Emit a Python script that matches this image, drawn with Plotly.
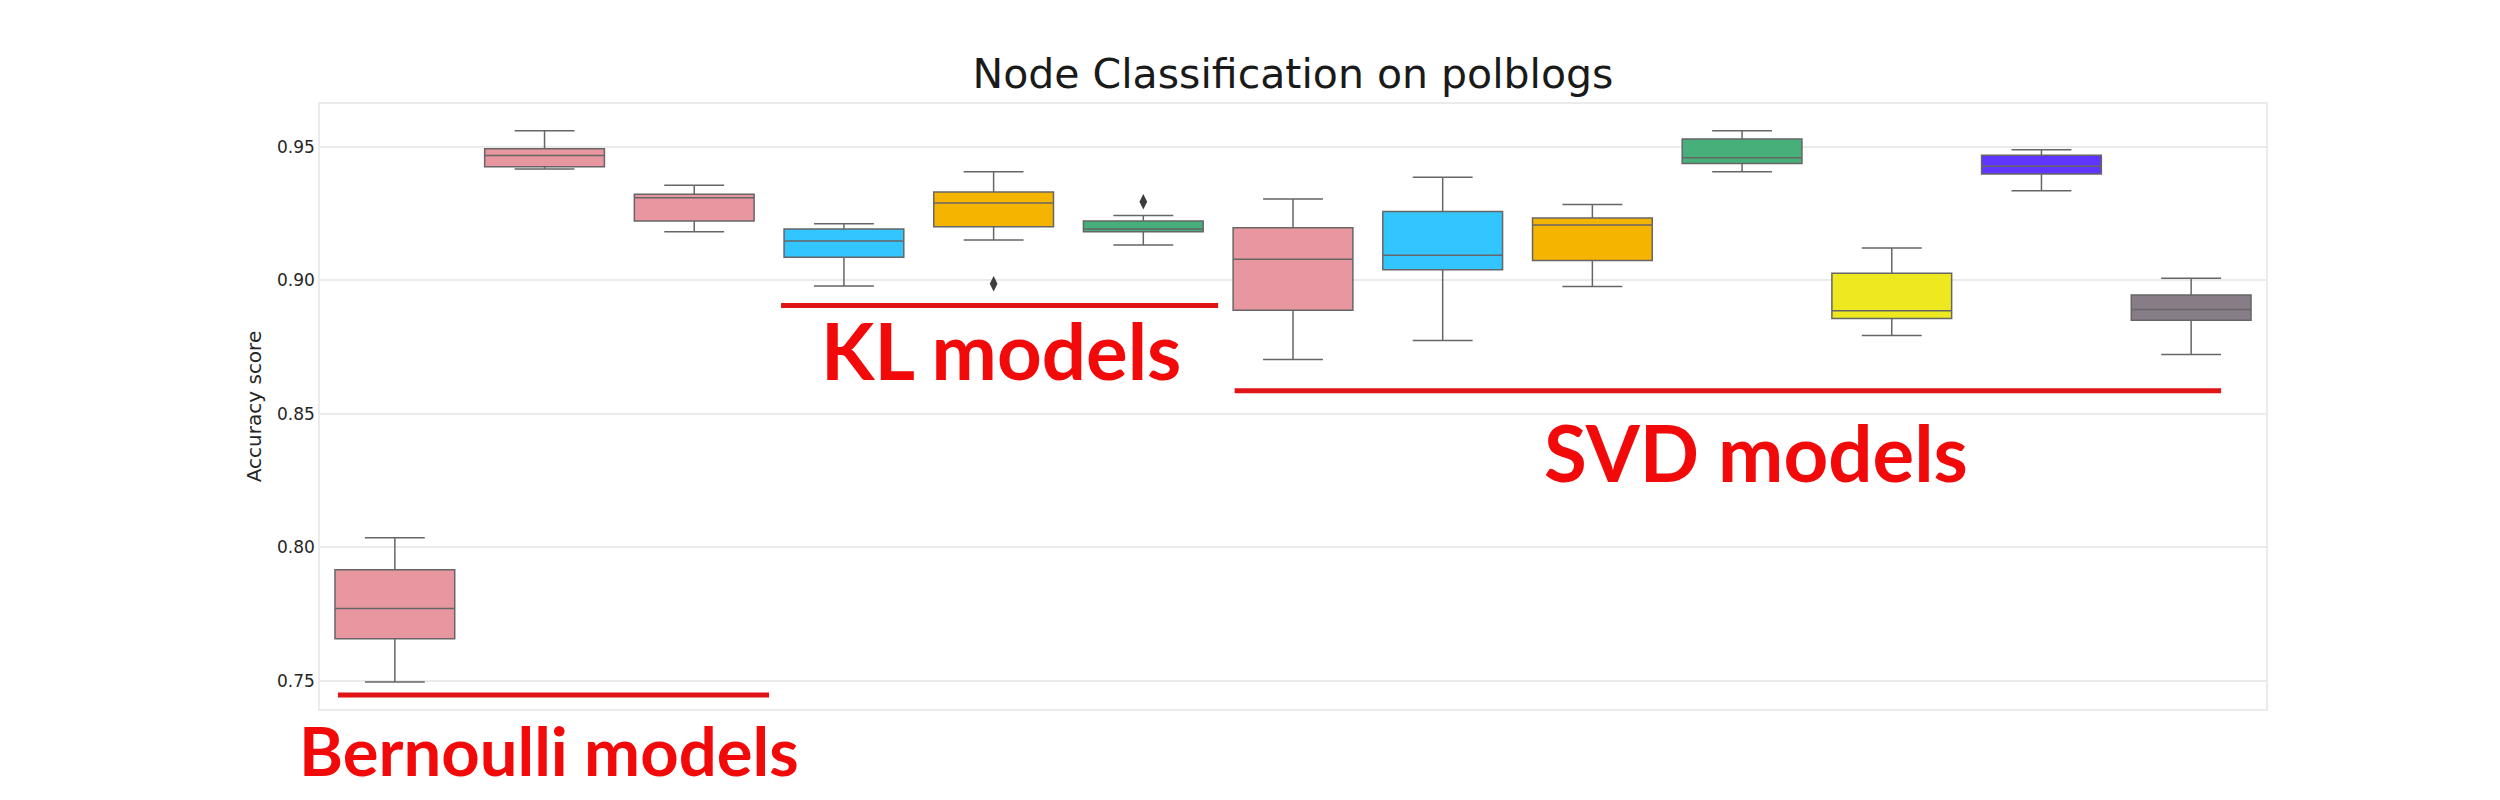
import plotly.graph_objects as go

# one box per model (left to right)
positions = list(range(13))
lower = [0.7496, 0.9417, 0.9182, 0.8979, 0.9151, 0.9132, 0.8703, 0.8775, 0.8977, 0.9406, 0.8793, 0.9335, 0.8722]
q1 = [0.7658, 0.9425, 0.9222, 0.9086, 0.9200, 0.9182, 0.8888, 0.9039, 0.9074, 0.9437, 0.8857, 0.9398, 0.8850]
median = [0.7771, 0.9467, 0.9309, 0.9147, 0.9289, 0.9192, 0.9079, 0.9094, 0.9207, 0.9459, 0.8886, 0.9427, 0.8891]
q3 = [0.7916, 0.9492, 0.9322, 0.9192, 0.9331, 0.9222, 0.9197, 0.9258, 0.9233, 0.9529, 0.9026, 0.9468, 0.8945]
upper = [0.8036, 0.9560, 0.9356, 0.9212, 0.9406, 0.9243, 0.9304, 0.9386, 0.9284, 0.9560, 0.9121, 0.9489, 0.9008]
colors = ['#e8969f', '#e8969f', '#e8969f', '#33c5ff', '#f5b400', '#47b07a', '#e8969f',
          '#33c5ff', '#f5b400', '#47b07a', '#ede81f', '#5f35ff', '#877d86']

outlier_x = [4, 5]
outlier_y = [0.8987, 0.9294]

# red group labels
group_names = ['Bernoulli models', 'KL models', 'SVD models']
group_x0 = [-0.38, 2.58, 5.61]
group_x1 = [2.50, 5.50, 12.20]
group_line_y = [0.7447, 0.8906, 0.8586]
label_x = [1.03, 4.05, 9.09]
label_y = [-0.068, 0.593, 0.425]   # paper units
label_size = [67, 78, 78]

fig = go.Figure()

for i in range(len(positions)):
    fig.add_trace(go.Box(
        x=[positions[i]],
        q1=[q1[i]], median=[median[i]], q3=[q3[i]],
        lowerfence=[lower[i]], upperfence=[upper[i]],
        width=0.8,
        whiskerwidth=0.5,
        fillcolor=colors[i],
        line=dict(color='#666666', width=1.5),
        boxpoints=False,
        hoverinfo='y',
        showlegend=False))

fig.add_trace(go.Scatter(
    x=outlier_x, y=outlier_y, mode='markers',
    marker=dict(symbol='diamond-tall', size=11, color='#3d3d3d'),
    showlegend=False))

for i in range(len(group_names)):
    fig.add_shape(type='line', xref='x', yref='y',
                  x0=group_x0[i], x1=group_x1[i], y0=group_line_y[i], y1=group_line_y[i],
                  line=dict(color='#e01414', width=5))
    fig.add_annotation(x=label_x[i], y=label_y[i], xref='x', yref='paper',
                       xanchor='center', yanchor='middle',
                       text='<b>' + group_names[i] + '</b>', showarrow=False,
                       font=dict(family='Lato', size=label_size[i], color='#f20a0a'))

fig.update_layout(
    width=2500, height=800,
    margin=dict(l=312, r=242, t=96, b=99),
    plot_bgcolor='white', paper_bgcolor='white',
    font=dict(family='DejaVu Sans', color='#262626'),
    title=dict(text='Node Classification on polblogs', x=0.514, xanchor='center',
               y=0.918, yanchor='middle', font=dict(size=41, color='#1a1a1a')),
)
fig.update_xaxes(range=[-0.5, 12.5], showticklabels=False, showgrid=False, zeroline=False,
                 showline=True, mirror=True, linecolor='#ebebeb', linewidth=1.5)
fig.update_yaxes(range=[0.7395, 0.966], tickvals=[0.75, 0.80, 0.85, 0.90, 0.95],
                 tickformat='.2f', tickfont=dict(size=17), ticks='', ticklen=0,
                 showgrid=True, gridcolor='#ebebeb', gridwidth=1.5, zeroline=False,
                 showline=True, mirror=True, linecolor='#ebebeb', linewidth=1.5,
                 title=dict(text='Accuracy score', font=dict(size=20), standoff=10))

fig.write_html("out.html")
